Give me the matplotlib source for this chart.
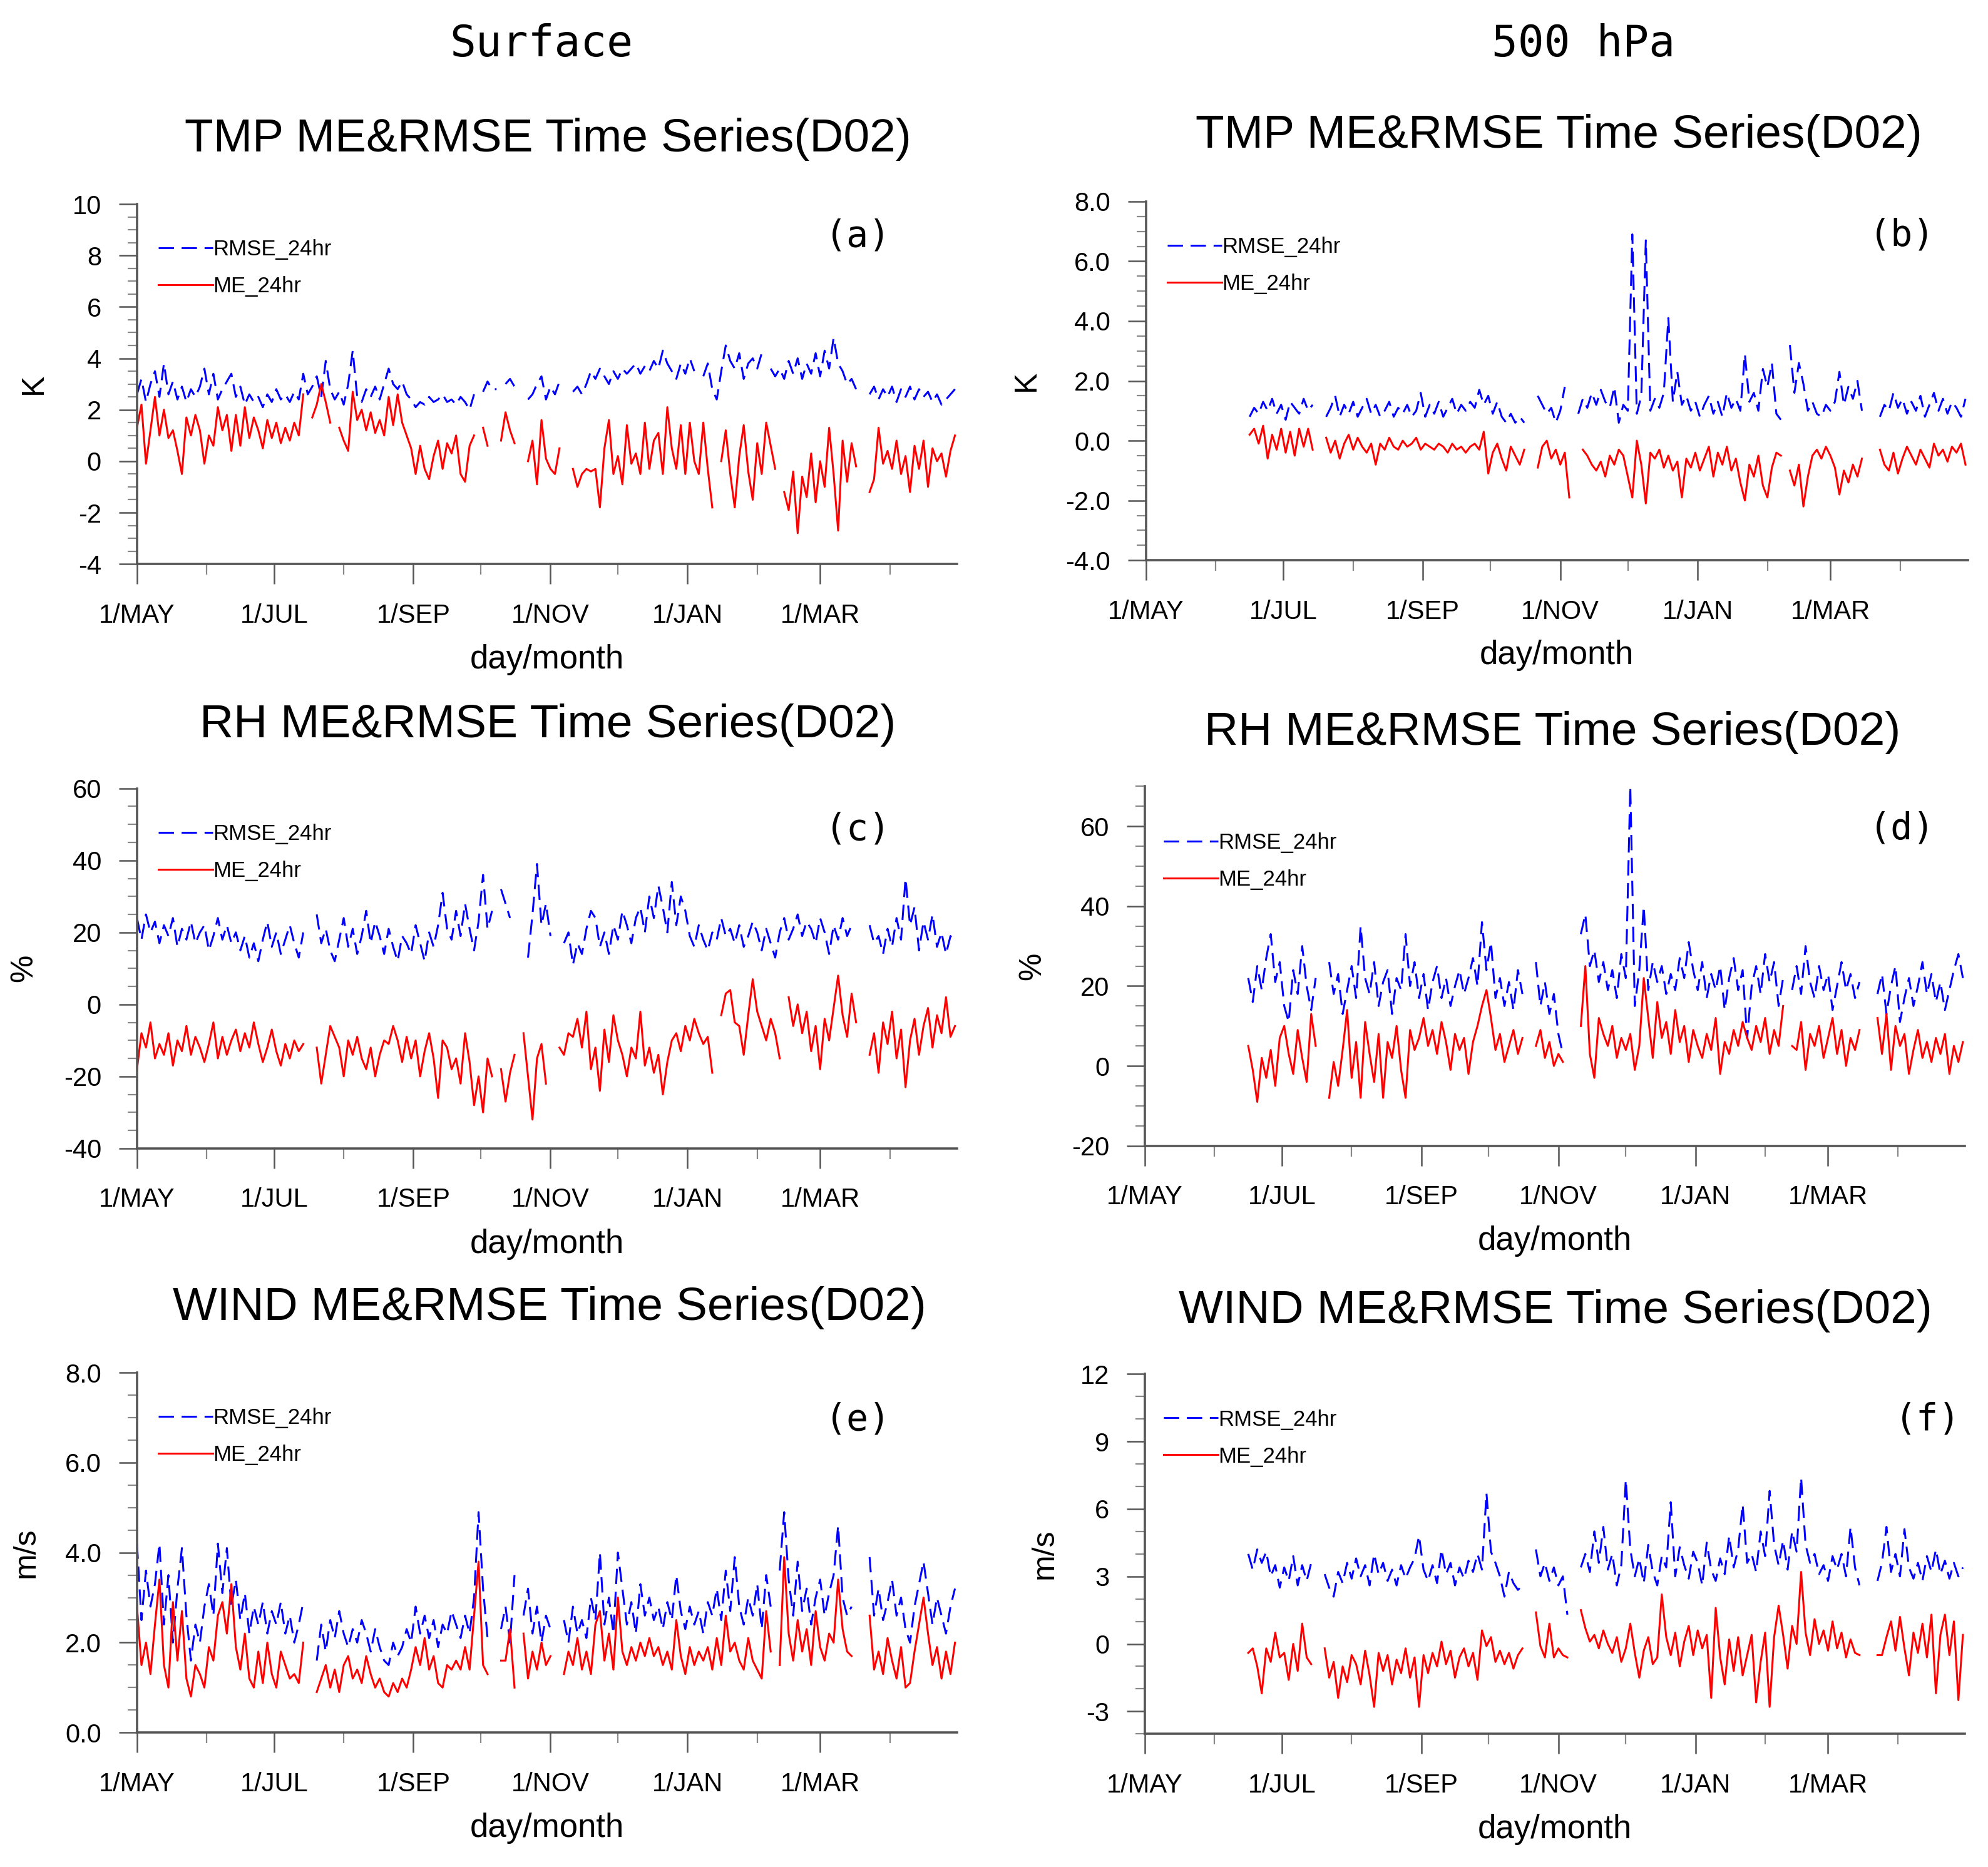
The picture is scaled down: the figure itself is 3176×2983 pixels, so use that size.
import numpy as np
import matplotlib
matplotlib.use('Agg')
import matplotlib.pyplot as plt
from matplotlib.ticker import MultipleLocator, FixedLocator, FormatStrFormatter

plt.rcParams['font.family'] = ['Liberation Sans', 'DejaVu Sans']
plt.rcParams['axes.unicode_minus'] = False

n = np.nan
STEP = 2  # days between samples, starting 1 May

month_ticks = [0, 61, 123, 184, 245, 304]
month_labels = ['1/MAY', '1/JUL', '1/SEP', '1/NOV', '1/JAN', '1/MAR']
minor_month_ticks = [31, 92, 153, 214, 276, 335]

# ---------------- Surface TMP (K) ----------------
sfc_tmp_rmse = [
    2.6, 3.2, 2.3, 3.0, 3.5, 2.5, 3.8, 2.6, 3.1, 2.4,
    2.9, 2.3, 2.8, 2.5, 2.9, 3.6, 2.6, 3.4, 2.4, 2.8,
    3.1, 3.4, 2.5, 2.9, 2.2, 2.6, 2.3, 2.5, 2.1, 2.6,
    2.3, 2.8, 2.4, 2.6, 2.3, 2.7, 2.4, 3.4, 2.6, 2.9,
    3.3, 2.5, 3.9, 2.8, 2.4, 2.7, 2.2, 3.0, 4.3, 2.5,
    2.3, 2.8, 2.5, 2.9, 2.4, 3.0, 3.6, 3.0, 2.8, 3.1,
    2.6, 2.4, 2.1, 2.3, 2.2, 2.5, 2.3, 2.4, 2.6, 2.3,
    2.4, 2.2, 2.5, 2.3, 2.0, 2.6, n, 2.7, 3.1, 2.8,
    2.8, n, 3.0, 3.2, 2.9, n, n, 2.4, 2.6, 3.0,
    3.3, 2.4, 2.9, 2.6, 3.1, n, n, 2.7, 2.9, 2.6,
    3.0, 3.5, 3.2, 3.6, 3.3, 3.0, 3.5, 3.2, 3.6, 3.4,
    3.6, 3.8, 3.4, 3.7, 3.5, 3.9, 3.6, 4.3, 3.8, 3.5,
    3.2, 3.8, 3.4, 4.0, 3.5, n, 3.3, 3.8, 2.8, 2.4,
    3.5, 4.5, 3.9, 3.6, 4.2, 3.2, 3.8, 4.0, 3.6, 4.2,
    n, 3.6, 3.3, 3.6, 3.2, 3.9, 3.4, 4.0, 3.2, 3.8,
    3.4, 4.2, 3.3, 4.3, 3.6, 4.8, 3.8, 3.5, 3.0, 3.2,
    2.8, n, n, 2.6, 2.9, 2.4, 2.8, 2.5, 2.9, 2.3,
    2.8, 2.5, 2.9, 2.4, 2.8, 2.5, 2.7, 2.3, 2.6, 2.2,
    2.4, 2.6, 2.8]
sfc_tmp_me = [
    1.3, 2.2, -0.1, 1.2, 2.5, 1.0, 2.0, 0.9, 1.2, 0.4,
    -0.5, 1.7, 1.0, 1.8, 1.2, -0.1, 1.0, 0.6, 2.1, 1.2,
    1.8, 0.4, 1.8, 0.6, 2.1, 0.9, 1.7, 1.2, 0.5, 1.6,
    0.9, 1.5, 0.7, 1.3, 0.8, 1.5, 1.0, 2.6, n, 1.7,
    2.2, 3.0, 2.3, 1.5, n, 1.3, 0.8, 0.4, 2.7, 1.6,
    2.0, 1.2, 1.9, 1.1, 1.6, 1.0, 2.5, 1.4, 2.6, 1.5,
    1.0, 0.5, -0.5, 0.6, -0.3, -0.7, 0.2, 0.8, -0.3, 0.7,
    0.3, 1.0, -0.5, -0.8, 0.6, 1.0, n, 1.3, 0.6, n,
    n, 0.8, 1.9, 1.2, 0.7, n, n, 0.0, 0.8, -0.9,
    1.6, 0.1, -0.3, -0.5, 0.5, n, n, -0.3, -1.0, -0.5,
    -0.3, -0.4, -0.3, -1.8, 0.5, 1.6, -0.5, 0.2, -0.9, 1.4,
    -0.1, 0.3, -0.5, 1.5, -0.3, 0.8, 1.1, -0.5, 2.1, 0.5,
    -0.3, 1.4, -0.5, 1.5, 0.0, -0.5, 1.5, -0.3, -1.8, n,
    0.0, 1.2, -0.5, -1.8, 0.2, 1.4, -0.4, -1.5, 0.7, -0.5,
    1.5, 0.6, -0.3, n, -1.2, -1.9, -0.4, -2.8, -0.6, -1.4,
    0.3, -1.6, 0.0, -1.0, 1.3, -0.5, -2.7, 0.8, -0.8, 0.7,
    -0.2, n, n, -1.2, -0.7, 1.3, -0.1, 0.4, -0.3, 0.8,
    -0.5, 0.2, -1.2, 0.6, -0.3, 0.8, -1.0, 0.5, 0.0, 0.3,
    -0.6, 0.4, 1.0]

# ---------------- 500 hPa TMP (K) ----------------
p500_tmp_rmse = [
    n, n, n, n, n, n, n, n, n, n,
    n, n, n, n, n, n, n, n, n, n,
    n, n, n, 0.8, 1.1, 0.9, 1.3, 1.0, 1.4, 0.9,
    1.2, 0.7, 1.3, 1.1, 0.9, 1.4, 1.0, 1.2, n, n,
    0.8, 1.1, 1.5, 0.8, 1.2, 0.9, 1.3, 0.8, 1.1, 1.4,
    0.9, 1.2, 0.8, 1.0, 1.3, 0.8, 1.1, 0.9, 1.2, 0.8,
    1.0, 1.6, 0.8, 1.2, 0.9, 1.3, 0.8, 1.1, 1.4, 0.9,
    1.2, 1.0, 1.3, 1.1, 1.7, 1.2, 1.5, 0.9, 1.3, 0.8,
    0.6, 0.9, 0.6, 0.8, 0.6, n, n, 1.5, 1.2, 0.9,
    1.1, 0.6, 1.0, 1.8, n, n, 0.9, 1.4, 1.1, 1.6,
    1.2, 1.7, 1.3, 1.1, 1.8, 0.6, 1.2, 1.0, 6.9, 0.9,
    1.5, 6.7, 1.0, 1.4, 1.1, 1.6, 4.1, 1.3, 2.3, 1.2,
    1.5, 1.0, 1.3, 0.8, 1.2, 1.5, 0.9, 1.3, 0.8, 1.6,
    1.1, 1.4, 1.0, 2.9, 1.3, 1.6, 1.0, 2.4, 1.8, 2.6,
    0.9, 0.7, n, 3.2, 1.6, 2.6, 1.9, 1.0, 1.3, 0.9,
    0.8, 1.2, 1.0, 1.3, 2.3, 1.2, 1.8, 1.4, 2.0, 1.0,
    n, n, n, 0.8, 1.2, 1.0, 1.6, 1.1, 1.4, 0.9,
    1.3, 1.0, 1.5, 0.8, 1.2, 1.6, 1.0, 1.4, 0.9, 1.3,
    1.1, 0.8, 1.4]
p500_tmp_me = [
    n, n, n, n, n, n, n, n, n, n,
    n, n, n, n, n, n, n, n, n, n,
    n, n, n, 0.2, 0.4, -0.1, 0.5, -0.6, 0.2, -0.3,
    0.4, -0.4, 0.3, -0.5, 0.4, -0.2, 0.4, -0.3, n, n,
    0.1, -0.4, 0.0, -0.6, -0.1, 0.2, -0.3, 0.1, -0.2, -0.4,
    -0.1, -0.8, -0.1, -0.3, 0.1, -0.2, -0.3, 0.0, -0.2, -0.1,
    0.1, -0.3, -0.1, -0.2, -0.3, -0.1, -0.2, -0.4, -0.1, -0.3,
    -0.2, -0.4, -0.2, -0.1, -0.3, 0.3, -1.1, -0.4, -0.1, -0.6,
    -1.0, -0.2, -0.5, -0.8, -0.3, n, n, -0.9, -0.2, 0.0,
    -0.6, -0.3, -0.8, -0.4, -1.9, n, n, -0.3, -0.5, -0.8,
    -1.0, -0.7, -1.2, -0.5, -0.8, -0.3, -0.5, -1.2, -1.9, 0.0,
    -0.8, -2.1, -0.4, -0.6, -0.3, -0.9, -0.5, -1.0, -0.7, -1.9,
    -0.6, -0.9, -0.4, -1.0, -0.6, -0.2, -1.2, -0.4, -0.8, -0.2,
    -1.0, -0.6, -1.4, -2.0, -0.8, -1.2, -0.5, -1.5, -1.9, -0.9,
    -0.4, -0.5, n, -1.0, -1.5, -0.8, -2.2, -1.2, -0.5, -0.3,
    -0.6, -0.2, -0.5, -0.9, -1.8, -1.0, -1.4, -0.8, -1.2, -0.6,
    n, n, n, -0.3, -0.8, -1.0, -0.4, -1.1, -0.6, -0.2,
    -0.5, -0.8, -0.3, -0.6, -0.9, -0.1, -0.5, -0.3, -0.7, -0.2,
    -0.4, -0.1, -0.8]

# ---------------- Surface RH (%) ----------------
sfc_rh_rmse = [
    24, 18, 25, 20, 23, 17, 22, 19, 24, 16,
    21, 18, 23, 17, 20, 22, 15, 19, 24, 18,
    22, 17, 20, 15, 19, 13, 17, 12, 18, 23,
    16, 20, 14, 18, 22, 17, 13, 20, n, n,
    25, 17, 21, 15, 12, 18, 24, 16, 21, 14,
    19, 26, 17, 23, 19, 14, 21, 16, 12, 19,
    17, 14, 22, 17, 12, 20, 16, 22, 31, 21,
    18, 26, 19, 28, 21, 15, 23, 36, 21, 26,
    n, 32, 28, 24, n, n, n, 13, 25, 39,
    22, 28, 19, n, n, 17, 20, 11, 17, 14,
    21, 26, 24, 16, 20, 14, 22, 18, 26, 22,
    17, 24, 27, 20, 30, 24, 33, 27, 20, 34,
    22, 30, 26, 19, 16, 22, 18, 15, 20, 18,
    24, 19, 21, 17, 22, 16, 19, 23, 20, 15,
    21, 17, 13, 20, 24, 18, 21, 25, 19, 23,
    21, 17, 24, 20, 14, 22, 18, 24, 19, 22,
    n, n, n, 22, 17, 19, 14, 21, 16, 24,
    18, 35, 22, 27, 15, 23, 18, 25, 16, 20,
    14, 19, 17]
sfc_rh_me = [
    -18, -8, -12, -5, -15, -11, -14, -8, -17, -10,
    -13, -6, -14, -9, -12, -16, -11, -5, -15, -9,
    -14, -10, -7, -13, -8, -12, -5, -11, -16, -12,
    -7, -13, -17, -11, -15, -10, -13, -11, n, n,
    -12, -22, -14, -6, -9, -12, -20, -10, -14, -9,
    -15, -18, -12, -20, -14, -10, -11, -6, -10, -16,
    -9, -15, -10, -20, -13, -8, -15, -26, -10, -12,
    -18, -15, -22, -8, -16, -28, -20, -30, -15, -20,
    n, -18, -27, -19, -14, n, -8, -20, -32, -15,
    -11, -22, n, n, -12, -14, -8, -9, -4, -12,
    -2, -18, -12, -24, -7, -16, -3, -10, -14, -20,
    -12, -15, -2, -17, -12, -19, -14, -25, -16, -10,
    -8, -13, -6, -10, -4, -8, -11, -9, -19, n,
    -3, 3, 4, -5, -6, -14, -3, 7, -2, -6,
    -10, -4, -8, -15, n, 2, -6, 0, -8, -2,
    -13, -6, -18, -4, -10, -1, 8, -3, -9, 3,
    -5, n, n, -14, -8, -19, -5, -11, -2, -15,
    -7, -23, -10, -4, -14, -6, -1, -12, -3, -8,
    2, -9, -6]

# ---------------- 500 hPa RH (%) ----------------
p500_rh_rmse = [
    n, n, n, n, n, n, n, n, n, n,
    n, n, n, n, n, n, n, n, n, n,
    n, n, n, 22, 16, 25, 19, 27, 33, 21,
    26, 15, 11, 24, 18, 30, 20, 14, 22, n,
    n, 26, 18, 23, 13, 19, 25, 17, 35, 22,
    18, 26, 15, 21, 24, 13, 22, 19, 33, 20,
    26, 17, 23, 14, 21, 25, 17, 22, 15, 20,
    24, 18, 22, 27, 20, 36, 24, 31, 17, 22,
    15, 21, 14, 24, 18, n, n, 26, 15, 21,
    13, 18, 8, 3, n, n, n, 33, 38, 25,
    29, 21, 26, 19, 24, 17, 28, 22, 70, 15,
    24, 40, 19, 26, 21, 25, 18, 23, 19, 27,
    22, 31, 24, 19, 26, 17, 23, 19, 25, 14,
    22, 27, 19, 24, 7, 20, 25, 18, 28, 21,
    26, 15, 22, n, 19, 25, 18, 30, 21, 17,
    25, 19, 23, 14, 20, 26, 19, 23, 17, 21,
    n, n, n, 18, 23, 13, 20, 25, 11, 17,
    22, 15, 20, 26, 18, 23, 16, 21, 14, 19,
    24, 28, 22]
p500_rh_me = [
    n, n, n, n, n, n, n, n, n, n,
    n, n, n, n, n, n, n, n, n, n,
    n, n, n, 5, -1, -9, 2, -3, 4, -5,
    7, 10, 3, -2, 9, 2, -4, 13, 5, n,
    n, -8, 1, -5, 4, 14, -3, 6, -8, 11,
    3, -4, 8, -8, 6, 2, 10, -1, -8, 9,
    4, 7, 12, 5, 9, 3, 11, 6, -1, 8,
    4, 7, -2, 6, 10, 15, 19, 12, 4, 8,
    1, 5, 9, 3, 7, n, n, 5, 9, 2,
    6, 0, 3, 1, n, n, n, 10, 25, 3,
    -3, 12, 8, 5, 10, 2, 7, 4, 8, -1,
    5, 22, 12, 2, 16, 7, 11, 3, 14, 6,
    10, 1, 9, 5, 2, 8, 4, 12, -2, 6,
    3, 9, 5, 11, 7, 4, 10, 6, 12, 3,
    9, 5, 15, n, 5, 4, 11, -1, 8, 5,
    10, 2, 7, 12, 3, 9, 0, 7, 4, 9,
    n, n, n, 12, 3, 13, -1, 10, 5, 8,
    -2, 4, 9, 2, 6, 1, 7, 3, 8, -2,
    5, 1, 6]

# ---------------- Surface WIND (m/s) ----------------
sfc_wind_rmse = [
    4.2, 2.5, 3.6, 2.8, 3.3, 4.2, 2.4, 3.5, 2.0, 3.2,
    4.1, 2.6, 1.6, 2.4, 2.0, 2.8, 3.3, 2.6, 4.2, 3.1,
    4.1, 2.8, 3.4, 2.5, 3.1, 2.2, 2.8, 2.4, 2.9, 2.2,
    2.7, 2.4, 2.9, 2.2, 2.6, 2.0, 2.4, 2.9, n, n,
    1.6, 2.4, 1.8, 2.5, 2.1, 2.7, 2.2, 1.9, 2.3, 2.0,
    2.5, 2.2, 1.8, 2.3, 1.9, 1.6, 1.5, 2.0, 1.7, 1.9,
    2.3, 2.0, 2.8, 2.2, 2.6, 2.1, 2.5, 1.9, 2.4, 2.2,
    2.7, 2.4, 2.1, 2.6, 2.2, 3.0, 4.9, 3.2, 2.1, n,
    n, 2.3, 2.8, 2.0, 3.5, n, 2.6, 3.2, 2.2, 2.8,
    2.0, 2.6, 2.3, n, n, 2.5, 2.0, 2.8, 2.2, 2.5,
    2.1, 3.0, 2.5, 4.0, 2.4, 3.0, 2.2, 4.0, 3.2, 2.4,
    2.9, 2.2, 3.3, 2.6, 3.0, 2.5, 2.8, 2.3, 2.9, 2.5,
    3.5, 2.7, 2.3, 2.8, 2.4, 2.7, 2.2, 2.9, 2.6, 3.2,
    2.5, 3.6, 2.7, 3.9, 2.8, 2.4, 3.0, 2.6, 3.3, 2.3,
    3.5, 2.8, n, 3.6, 4.9, 3.4, 2.6, 3.8, 2.7, 3.2,
    2.4, 3.0, 3.4, 2.6, 3.1, 3.5, 4.6, 3.0, 2.6, 2.8,
    n, n, n, 3.9, 2.6, 3.2, 2.5, 2.9, 3.4, 2.6,
    3.0, 2.3, 2.0, 2.8, 3.3, 3.8, 3.1, 2.4, 3.0, 2.6,
    2.2, 2.8, 3.2]
sfc_wind_me = [
    2.8, 1.5, 2.0, 1.3, 2.4, 3.4, 1.5, 1.0, 2.9, 1.6,
    2.7, 1.2, 0.8, 1.5, 1.3, 1.0, 1.9, 1.6, 2.6, 2.9,
    2.2, 3.3, 1.9, 1.4, 2.2, 1.2, 1.0, 1.8, 1.1, 2.0,
    1.3, 1.0, 1.8, 1.5, 1.2, 1.3, 1.1, 2.0, n, n,
    0.9, 1.2, 1.5, 1.0, 1.4, 0.9, 1.5, 1.7, 1.2, 1.4,
    1.1, 1.7, 1.3, 1.0, 1.2, 0.9, 0.8, 1.1, 0.9, 1.2,
    1.0, 1.4, 1.9, 1.5, 2.1, 1.4, 1.7, 1.1, 1.0, 1.5,
    1.4, 1.6, 1.4, 1.9, 1.4, 2.6, 3.8, 1.5, 1.3, n,
    n, 1.6, 1.6, 2.3, 1.0, n, 2.2, 1.2, 1.8, 1.4,
    2.0, 1.5, 1.7, n, n, 1.3, 1.8, 1.5, 2.1, 1.4,
    1.8, 1.3, 2.4, 2.7, 1.6, 2.2, 1.4, 3.0, 1.8, 1.5,
    1.9, 1.6, 2.0, 1.7, 2.1, 1.7, 1.9, 1.5, 1.8, 1.4,
    2.5, 1.7, 1.3, 1.9, 1.5, 1.8, 1.6, 1.9, 1.4, 2.1,
    1.5, 2.6, 1.8, 2.0, 1.6, 1.4, 2.1, 1.6, 1.4, 1.2,
    2.7, 1.8, n, 1.5, 3.9, 2.2, 1.6, 2.5, 1.8, 2.3,
    1.5, 2.7, 1.9, 1.6, 2.2, 2.0, 3.4, 2.3, 1.8, 1.7,
    n, n, n, 2.6, 1.4, 1.8, 1.3, 2.1, 1.6, 1.2,
    1.9, 1.0, 1.1, 1.8, 2.4, 3.0, 2.2, 1.5, 1.9, 1.2,
    1.8, 1.3, 2.0]

# ---------------- 500 hPa WIND (m/s) ----------------
p500_wind_rmse = [
    n, n, n, n, n, n, n, n, n, n,
    n, n, n, n, n, n, n, n, n, n,
    n, n, n, 4.0, 3.3, 4.2, 3.6, 4.1, 3.0, 3.5,
    2.5, 3.4, 2.8, 3.9, 2.6, 3.5, 2.8, 3.6, n, n,
    3.1, 2.5, 2.1, 3.2, 2.7, 3.6, 2.9, 3.8, 3.0, 3.5,
    2.6, 4.0, 3.1, 3.6, 2.8, 3.3, 2.6, 3.5, 2.9, 3.4,
    3.8, 4.8, 3.3, 2.8, 3.5, 2.7, 4.2, 3.1, 3.6, 2.6,
    3.4, 2.9, 3.7, 3.2, 4.0, 3.3, 6.7, 4.1, 3.6, 3.0,
    2.1, 3.2, 2.7, 2.4, 2.6, n, n, 4.2, 3.0, 3.6,
    2.8, 3.4, 2.6, 3.0, 1.3, n, n, 3.4, 4.0, 3.2,
    5.0, 3.6, 5.2, 3.3, 4.0, 2.6, 3.5, 7.3, 4.2, 3.0,
    3.8, 2.7, 4.4, 3.2, 2.6, 3.9, 3.4, 6.3, 3.0, 4.3,
    3.5, 2.9, 4.1, 3.6, 2.6, 4.5, 3.3, 2.8, 3.8, 3.1,
    4.8, 3.4, 4.2, 6.2, 3.6, 4.0, 3.2, 5.0, 3.9, 6.8,
    4.4, 3.5, 4.6, 3.3, 5.0, 4.1, 7.4, 4.4, 3.6, 4.0,
    3.1, 3.5, 2.8, 3.9, 3.3, 4.0, 3.0, 5.2, 3.4, 2.6,
    n, n, n, 2.8, 3.6, 5.2, 3.2, 4.0, 3.0, 5.1,
    3.4, 2.9, 3.6, 2.8, 3.9, 3.2, 4.2, 3.1, 3.7, 2.9,
    3.6, 3.0, 3.4]
p500_wind_me = [
    n, n, n, n, n, n, n, n, n, n,
    n, n, n, n, n, n, n, n, n, n,
    n, n, n, -0.4, -0.2, -1.0, -2.2, -0.2, -0.8, 0.5,
    -0.6, -0.4, -1.6, 0.0, -1.2, 0.9, -0.6, -0.9, n, n,
    -0.2, -1.5, -0.8, -2.4, -1.0, -1.7, -0.5, -0.9, -1.8, -0.3,
    -1.4, -2.8, -0.4, -1.2, -0.5, -1.8, -0.7, -1.3, -0.2, -1.5,
    -0.6, -2.8, -0.5, -1.3, -0.4, -1.0, 0.1, -0.9, -0.3, -1.5,
    -0.6, -0.2, -1.0, -0.4, -1.6, 0.6, -0.1, 0.3, -0.8, -0.3,
    -0.9, -0.4, -1.1, -0.5, -0.2, n, n, 1.4, -0.1, -0.6,
    0.9, -0.6, -0.2, -0.5, -0.6, n, n, 1.5, 0.7, 0.1,
    0.4, -0.2, 0.6, 0.0, -0.4, 0.3, -0.8, -0.2, 0.9, -0.4,
    -1.5, -0.3, 0.3, -0.9, -0.6, 2.2, 0.3, -0.5, 0.5, -1.0,
    0.1, 0.8, -0.5, 0.6, -0.2, 0.4, -2.4, 1.6, -0.6, -1.8,
    0.2, -1.2, 0.3, -1.4, -0.5, 0.4, -2.6, -0.8, 0.5, -2.8,
    0.3, 1.7, 0.4, -1.1, 0.8, 0.0, 3.2, 0.5, -0.5, 1.1,
    0.0, 0.6, -0.3, 1.0, -0.2, 0.5, -0.6, 0.2, -0.4, -0.5,
    n, n, n, -0.5, -0.5, 0.3, 1.0, -0.3, 1.2, -0.2,
    -1.4, 0.5, -0.4, 0.9, -0.6, 1.3, -2.2, 0.4, 1.3, -0.5,
    1.0, -2.5, 0.4]

column_titles = ['Surface', '500 hPa']
titles = ['TMP ME&RMSE Time Series(D02)', 'TMP ME&RMSE Time Series(D02)',
          'RH ME&RMSE Time Series(D02)', 'RH ME&RMSE Time Series(D02)',
          'WIND ME&RMSE Time Series(D02)', 'WIND ME&RMSE Time Series(D02)']
tags = ['(a)', '(b)', '(c)', '(d)', '(e)', '(f)']
units = ['K', 'K', '%', '%', 'm/s', 'm/s']

# ---------------- Figure ----------------
fig = plt.figure(figsize=(15.88, 14.915), dpi=200)

AX_C = '#555555'
MINOR_C = '#888888'
panels = [
    dict(rect=[0.0689, 0.6979, 0.4126, 0.1928], rmse=sfc_tmp_rmse, me=sfc_tmp_me,
         ylim=(-4, 10), major=2, minor=0.5, fmt='%d', ylx=-0.108,
         leg=(0.026, 0.822), tag=(0.879, 0.912), title=(0.2755, 0.9253)),
    dict(rect=[0.5765, 0.6999, 0.4133, 0.1922], rmse=p500_tmp_rmse, me=p500_tmp_me,
         ylim=(-4, 8), major=2, minor=0.5, fmt='%.1f', ylx=-0.128,
         leg=(0.026, 0.822), tag=(0.92, 0.905), title=(0.784, 0.9274)),
    dict(rect=[0.0689, 0.3849, 0.4126, 0.1928], rmse=sfc_rh_rmse, me=sfc_rh_me,
         ylim=(-40, 60), major=20, minor=5, fmt='%d', ylx=-0.12,
         leg=(0.026, 0.822), tag=(0.879, 0.887), title=(0.2755, 0.6117)),
    dict(rect=[0.5759, 0.3863, 0.4126, 0.1925], rmse=p500_rh_rmse, me=p500_rh_me,
         ylim=(-20, 70), major=20, minor=5, fmt='%d', ylx=-0.12,
         leg=(0.023, 0.792), tag=(0.923, 0.882), title=(0.781, 0.6076)),
    dict(rect=[0.0689, 0.0720, 0.4126, 0.1928], rmse=sfc_wind_rmse, me=sfc_wind_me,
         ylim=(0, 8), major=2, minor=0.5, fmt='%.1f', ylx=-0.118,
         leg=(0.026, 0.822), tag=(0.879, 0.87), title=(0.2765, 0.2994)),
    dict(rect=[0.5759, 0.0713, 0.4126, 0.1928], rmse=p500_wind_rmse, me=p500_wind_me,
         ylim=(-4, 12), major=3, minor=1, fmt='%d', ylx=-0.105,
         leg=(0.023, 0.822), tag=(0.954, 0.873), title=(0.7825, 0.298)),
]

for i, p in enumerate(panels):
    ax = fig.add_axes(p['rect'])
    d1 = np.arange(len(p['rmse'])) * STEP
    d2 = np.arange(len(p['me'])) * STEP
    ax.plot(d1, p['rmse'], color='#0000ff', lw=1.1, dashes=(8, 4),
            label='RMSE_24hr')
    ax.plot(d2, p['me'], color='#ff0000', lw=1.1, label='ME_24hr')
    ax.set_xlim(0, 365)
    ax.set_ylim(*p['ylim'])

    for s in ['top', 'right']:
        ax.spines[s].set_visible(False)
    for s in ['left', 'bottom']:
        ax.spines[s].set_color(AX_C)
        ax.spines[s].set_linewidth(1.3)

    ax.xaxis.set_major_locator(FixedLocator(month_ticks))
    ax.set_xticklabels(month_labels)
    ax.xaxis.set_minor_locator(FixedLocator(minor_month_ticks))
    ax.yaxis.set_major_locator(MultipleLocator(p['major']))
    ax.yaxis.set_minor_locator(MultipleLocator(p['minor']))
    ax.yaxis.set_major_formatter(FormatStrFormatter(p['fmt']))

    ax.tick_params(axis='x', which='major', direction='out', length=11.5, width=0.9,
                   color=AX_C, pad=11, labelsize=15)
    ax.tick_params(axis='x', which='minor', direction='out', length=6, width=0.8,
                   color=MINOR_C)
    ax.tick_params(axis='y', which='major', direction='out', length=10.5, width=0.9,
                   color=AX_C, pad=10, labelsize=15)
    ax.tick_params(axis='y', which='minor', direction='out', length=5.5, width=0.8,
                   color=MINOR_C)

    ax.set_ylabel(units[i], fontsize=18)
    ax.yaxis.set_label_coords(p['ylx'], 0.5)
    ax.set_xlabel('day/month', fontsize=19)
    ax.xaxis.set_label_coords(0.5, -0.222)
    ax.xaxis.label.set_va('top')

    ax.legend(loc='center left', bbox_to_anchor=p['leg'], frameon=False,
              borderaxespad=0, borderpad=0, handlelength=2.5, handletextpad=0.0,
              labelspacing=0.75, fontsize=12.5)

    ax.text(p['tag'][0], p['tag'][1], tags[i], transform=ax.transAxes,
            ha='center', va='center', fontsize=21,
            family=['DejaVu Sans Mono', 'DejaVu Sans'])

    fig.text(p['title'][0], p['title'][1], titles[i], ha='center', va='center',
             fontsize=27)

fig.text(0.2723, 0.9762, column_titles[0], ha='center', va='center', fontsize=25,
         family=['DejaVu Sans Mono', 'DejaVu Sans'])
fig.text(0.7966, 0.9762, column_titles[1], ha='center', va='center', fontsize=25,
         family=['DejaVu Sans Mono', 'DejaVu Sans'])

fig.savefig('out.png', dpi=200, facecolor='white')
